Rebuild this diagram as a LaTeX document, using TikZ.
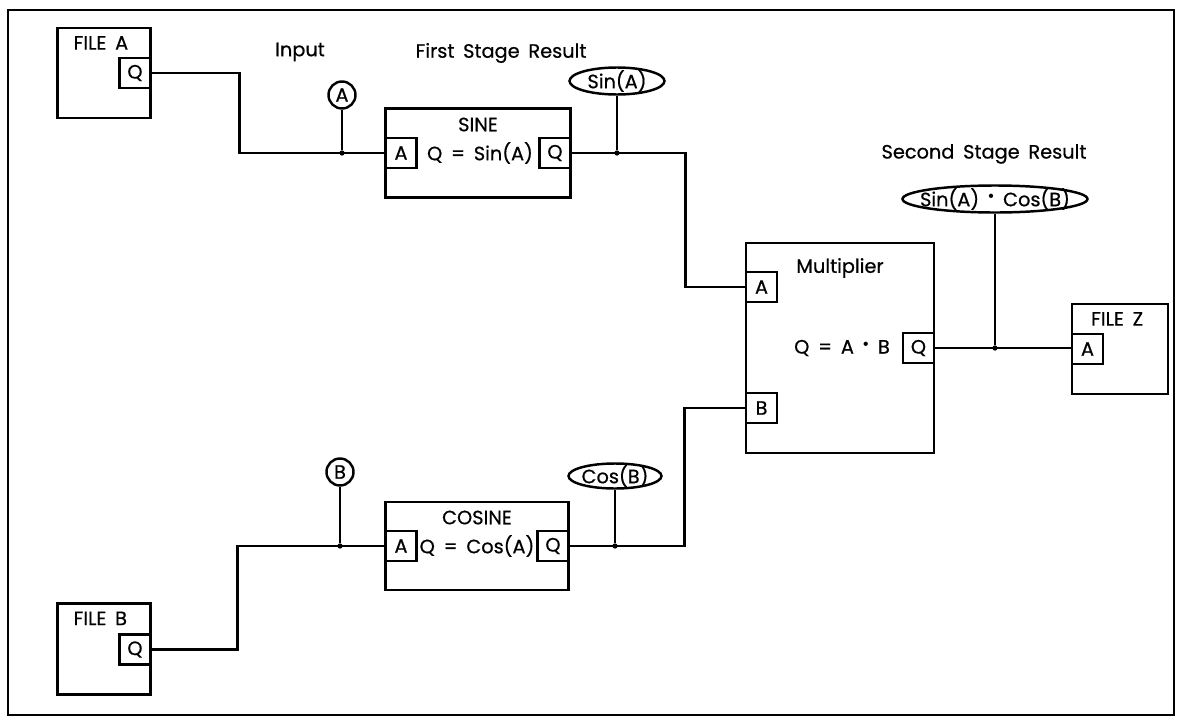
\documentclass[tikz,border=0pt]{standalone}
\usepackage{fontspec}
\setmainfont{Poppins}[WordSpace=1.7, FakeBold=0.6]
\usepackage{tikz}
\usetikzlibrary{positioning,shapes.geometric}
\newcommand{\mulsym}{\raisebox{0.7ex}{$\scriptscriptstyle\bullet$}}

\begin{document}
\begin{tikzpicture}[
    x=0.02cm, y=-0.02cm,
    every node/.style={font=\fontsize{11}{13}\selectfont, inner sep=0pt},
    block/.style={draw, line width=1.4pt},
    port/.style={draw, line width=1.4pt, fill=white, minimum width=0.62cm, minimum height=0.6cm},
    tag/.style={draw, ellipse, line width=1.4pt},
    pin/.style={draw, circle, line width=1.4pt, minimum size=0.54cm},
    wire/.style={line width=1.4pt},
    joint/.style={circle, fill, minimum size=3pt}
]
\useasboundingbox (0,0) rectangle (1180,717);
\draw[line width=1.5pt] (8,10) rectangle (1174,715);

% files
\node[block, minimum width=1.86cm, minimum height=1.8cm] (fa) at (104,73) {};
\node[anchor=north west] (falbl) at ([xshift=0.34cm, yshift=-0.18cm]fa.north west) {FILE A};
\node[port, anchor=north east] (faq) at ([yshift=-0.6cm]fa.north east) {Q};

\node[block, minimum width=1.86cm, minimum height=1.82cm] (fb) at (104,649) {};
\node[anchor=north west] (fblbl) at ([xshift=0.34cm, yshift=-0.18cm]fb.north west) {FILE B};
\node[port, anchor=north east] (fbq) at ([yshift=-0.62cm]fb.north east) {Q};

\node[block, minimum width=1.92cm, minimum height=1.8cm] (fz) at (1120,349) {};
\node[anchor=north west] (fzlbl) at ([xshift=0.4cm, yshift=-0.18cm]fz.north west) {FILE Z};
\node[port, anchor=north west] (fza) at ([yshift=-0.6cm]fz.north west) {A};

% function blocks
\node[block, minimum width=3.7cm, minimum height=1.78cm] (sine) at (478,153) {};
\node[anchor=north] (sinelbl) at ([yshift=-0.2cm]sine.north) {SINE};
\node[port, anchor=west] (sina) at (sine.west) {A};
\node[port, anchor=east] (sinq) at (sine.east) {Q};
\node (sineeq) at ([xshift=0.04cm]sine.center) {Q = Sin(A)};

\node[block, minimum width=3.66cm, minimum height=1.76cm] (cosine) at (477,546) {};
\node[anchor=north] (coslbl) at ([yshift=-0.19cm]cosine.north) {COSINE};
\node[port, anchor=west] (cosa) at (cosine.west) {A};
\node[port, anchor=east] (cosq) at (cosine.east) {Q};
\node (coseq) at (cosine.center) {Q = Cos(A)};

\node[block, minimum width=3.76cm, minimum height=4.2cm] (mult) at (840,348) {};
\node[anchor=north] (multlbl) at ([yshift=-0.32cm]mult.north) {Multiplier};
\node[port, anchor=north west] (multa) at ([yshift=-0.58cm]mult.north west) {A};
\node[port, anchor=north west] (multb) at ([yshift=-3cm]mult.north west) {B};
\node[port, anchor=east] (multq) at (mult.east) {Q};
\node (multeq) at ([xshift=0.04cm]mult.center) {Q = A \mulsym\ B};

% probes
\node (inlbl) at (300,52) {Input};
\node[pin] (pa) at (342,95) {A};
\node[pin] (pb) at (340,472) {B};

\node (firstlbl) at (501,53) {First Stage Result};
\node[tag, minimum width=1.9cm, minimum height=0.54cm] (sinr) at (617,81) {};
\node (sinrtxt) at (sinr) {Sin(A)};
\node[tag, minimum width=1.86cm, minimum height=0.5cm] (cosr) at (615,476) {};
\node (cosrtxt) at (cosr) {Cos(B)};

\node (secondlbl) at (984,154) {Second Stage Result};
\node[tag, minimum width=3.7cm, minimum height=0.54cm] (res) at (995,199) {};
\node (restxt) at (res) {Sin(A) \mulsym\ Cos(B)};

% wires
\draw[wire] (faq.east) -- ++(88,0) |- (sina.west);
\draw[wire] (fbq.east) -- ++(86,0) |- (cosa.west);
\draw[wire] (sinq.east) -- ++(114,0) |- (multa.west);
\draw[wire] (cosq.east) -- ++(115,0) |- (multb.west);
\draw[wire] (multq.east) -- (multq.east -| fza.west);

\node[joint] (ja) at (pa |- sina.west) {};
\node[joint] (jb) at (pb |- cosa.west) {};
\node[joint] (js) at (sinr |- sinq.east) {};
\node[joint] (jc) at (cosr |- cosq.east) {};
\node[joint] (jr) at (res |- multq.east) {};
\draw[wire] (pa) -- (ja);
\draw[wire] (pb) -- (jb);
\draw[wire] (sinr) -- (js);
\draw[wire] (cosr) -- (jc);
\draw[wire] (res) -- (jr);
\end{tikzpicture}
\end{document}
